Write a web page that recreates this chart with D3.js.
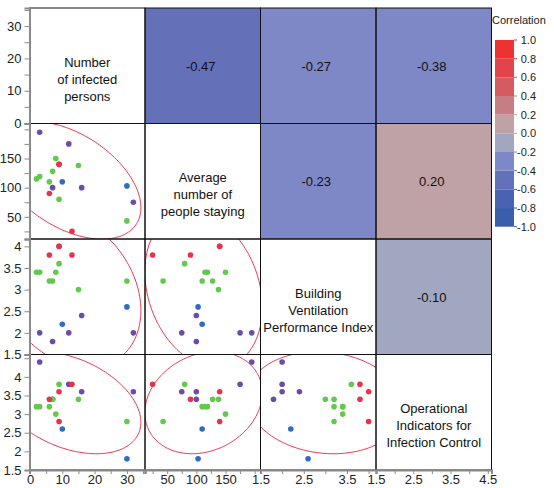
<!DOCTYPE html>
<html>
<head>
<meta charset="utf-8">
<script src="https://cdn.jsdelivr.net/npm/d3@7"></script>
<style>
  body { margin: 0; background: #fff; }
  text { font-family: "Liberation Sans", Arial, Helvetica, sans-serif; }
</style>
</head>
<body>
<svg id="chart" width="554" height="488"></svg>
<script>
// data, one entry per room
const group       = ["red","red","red","red","green","green","green","green","green","green","green","green","blue","blue","purple","purple","purple","purple","purple"];
const infected    = [9, 9, 6, 13, 8, 15, 7, 3, 2, 6, 9, 30, 10, 30, 3, 12, 7, 16, 32];
const staying     = [140, 140, 90, 25, 150, 138, 128, 119, 115, 110, 80, 43, 110, 103, 195, 175, 100, 100, 75];
const ventilation = [4.0, 4.0, 3.8, 3.8, 3.4, 3.0, 3.2, 3.4, 3.4, 3.2, 3.6, 3.2, 2.2, 2.6, 2.0, 2.0, 1.8, 2.4, 2.0];
const operational = [3.6, 2.8, 3.4, 3.8, 3.0, 3.4, 3.4, 3.2, 3.2, 3.2, 3.8, 2.8, 2.6, 1.8, 4.4, 3.8, 3.4, 3.6, 3.6];

const varLabels = [
  ["Number", "of infected", "persons"],
  ["Average", "number of", "people staying"],
  ["Building", "Ventilation", "Performance Index"],
  ["Operational", "Indicators for", "Infection Control"]
];
// [row, col, r] for the upper panels
const corrValues = [[0, 1, -0.47], [0, 2, -0.27], [0, 3, -0.38], [1, 2, -0.23], [1, 3, 0.20], [2, 3, -0.10]];

const tickValues = [
  [0, 5, 10, 15, 20, 25, 30, 35],
  [25, 50, 75, 100, 125, 150, 175, 200],
  [1.5, 2, 2.5, 3, 3.5, 4],
  [1.5, 2, 2.5, 3, 3.5, 4, 4.5]
];
const yTickLabels = [[0, 10, 20, 30], [50, 100, 150], [1.5, 2, 2.5, 3, 3.5, 4], [1.5, 2, 2.5, 3, 3.5, 4]];
const xTickLabels = [[0, 10, 20, 30], [50, 100, 150], [1.5, 2.5, 3.5], [1.5, 2.5, 3.5, 4.5]];
const legendTicks = [1.0, 0.8, 0.6, 0.4, 0.2, 0.0, -0.2, -0.4, -0.6, -0.8, -1.0];
// bins from -1 up to +1
const binColors = ["#3a5dac", "#4a62b0", "#6470b8", "#7e88c6", "#a1a7c0", "#bfa2a6", "#c67e84", "#d65a62", "#e3434a", "#ee3131"];
const pointColors = { red: "#e8344a", green: "#62c84e", blue: "#2f6bc7", purple: "#6b4ca6" };

const columns = [infected, staying, ventilation, operational];
const domains = [[-0.15, 35.6], [12, 210], [1.5, 4.17], [1.5, 4.6]];

const x0 = 29.5, y0 = 8, s = 115.5, n = 4;
const svg = d3.select("#chart");

const xs = domains.map((d, j) => d3.scaleLinear().domain(d).range([x0 + j * s, x0 + (j + 1) * s]));
const ys = domains.map((d, i) => d3.scaleLinear().domain(d).range([y0 + (i + 1) * s, y0 + i * s]));

const binOf = r => binColors[Math.max(0, Math.min(9, Math.floor((r + 1) / 0.2 - 1e-9)))];

// clip paths per panel
const defs = svg.append("defs");
for (let i = 0; i < n; i++) for (let j = 0; j < n; j++) {
  defs.append("clipPath").attr("id", `clip${i}${j}`)
    .append("rect").attr("x", x0 + j * s).attr("y", y0 + i * s).attr("width", s).attr("height", s);
}

// upper panels: colour + value
svg.selectAll("rect.corr").data(corrValues).enter().append("rect")
  .attr("x", d => x0 + d[1] * s).attr("y", d => y0 + d[0] * s)
  .attr("width", s).attr("height", s)
  .attr("fill", d => binOf(d[2]));
svg.selectAll("text.corr").data(corrValues).enter().append("text")
  .attr("x", d => x0 + d[1] * s + s / 2 - 2).attr("y", d => y0 + d[0] * s + s / 2 + 5)
  .attr("text-anchor", "middle").attr("font-size", 13).attr("fill", "#111")
  .text(d => d[2].toFixed(2));

// diagonal labels
for (let i = 0; i < n; i++) {
  svg.append("g").selectAll("text").data(varLabels[i]).enter().append("text")
    .attr("x", x0 + i * s + s / 2)
    .attr("y", (d, k) => y0 + i * s + s / 2 + 1 + k * 17)
    .attr("text-anchor", "middle").attr("font-size", 13).attr("fill", "#111")
    .text(d => d);
}

// 95% data ellipse for a pair of columns
function ellipsePoints(xv, yv) {
  const mx = d3.mean(xv), my = d3.mean(yv);
  const m = xv.length;
  let sxx = 0, syy = 0, sxy = 0;
  for (let k = 0; k < m; k++) {
    sxx += (xv[k] - mx) ** 2; syy += (yv[k] - my) ** 2; sxy += (xv[k] - mx) * (yv[k] - my);
  }
  sxx /= m - 1; syy /= m - 1; sxy /= m - 1;
  const tr = sxx + syy, det = sxx * syy - sxy * sxy;
  const l1 = tr / 2 + Math.sqrt(tr * tr / 4 - det), l2 = tr / 2 - Math.sqrt(tr * tr / 4 - det);
  const ang = Math.atan2(l1 - sxx, sxy);
  const c = 5.991;
  const a = Math.sqrt(c * l1), b = Math.sqrt(c * l2);
  const pts = [];
  for (let t = 0; t <= 200; t++) {
    const th = t / 200 * 2 * Math.PI;
    const u = a * Math.cos(th), v = b * Math.sin(th);
    pts.push([mx + u * Math.cos(ang) - v * Math.sin(ang), my + u * Math.sin(ang) + v * Math.cos(ang)]);
  }
  return pts;
}

const drawOrder = d3.range(infected.length).sort((p, q) =>
  ["purple", "blue", "green", "red"].indexOf(group[p]) - ["purple", "blue", "green", "red"].indexOf(group[q]));

// lower panels: ellipse + points
for (let i = 1; i < n; i++) for (let j = 0; j < i; j++) {
  const g = svg.append("g").attr("clip-path", `url(#clip${i}${j})`);
  const line = d3.line().x(d => xs[j](d[0])).y(d => ys[i](d[1]));
  g.append("path").attr("d", line(ellipsePoints(columns[j], columns[i])))
    .attr("fill", "none").attr("stroke", "#e8364e").attr("stroke-width", 1);
  g.selectAll("circle").data(drawOrder).enter().append("circle")
    .attr("cx", k => xs[j](columns[j][k])).attr("cy", k => ys[i](columns[i][k]))
    .attr("r", 2.8).attr("fill", k => pointColors[group[k]]);
}

// panel frames
for (let i = 0; i < n; i++) for (let j = 0; j < n; j++) {
  svg.append("rect").attr("x", x0 + j * s).attr("y", y0 + i * s).attr("width", s).attr("height", s)
    .attr("fill", "none").attr("stroke", "#111").attr("stroke-width", 1);
}

// outer axes
function styleAxis(g) {
  g.select(".domain").attr("stroke", "#8a8a8a").attr("stroke-width", 2);
  g.selectAll(".tick line").attr("stroke", "#8a8a8a").attr("stroke-width", 1);
  g.selectAll(".tick text").attr("font-size", 13).attr("fill", "#222")
    .attr("font-family", "'Liberation Sans', Arial, Helvetica, sans-serif");
}
for (let i = 0; i < n; i++) {
  svg.append("g").attr("transform", `translate(${x0},0)`)
    .call(d3.axisLeft(ys[i]).tickValues(tickValues[i]).tickSizeOuter(0).tickSize(5).tickPadding(3)
      .tickFormat(d => yTickLabels[i].includes(d) ? String(d) : ""))
    .call(styleAxis);
}
for (let j = 0; j < n; j++) {
  svg.append("g").attr("transform", `translate(0,${y0 + n * s})`)
    .call(d3.axisBottom(xs[j]).tickValues(tickValues[j]).tickSizeOuter(0).tickSize(4).tickPadding(1)
      .tickFormat(d => xTickLabels[j].includes(d) ? String(d) : ""))
    .call(styleAxis);
}

// colour legend
const ly = d3.scaleLinear().domain([1, -1]).range([40, 226.7]);
const legend = svg.append("g");
legend.append("text").attr("x", 492).attr("y", 24).attr("font-size", 11).attr("fill", "#222").text("Correlation");
legend.selectAll("rect").data(d3.range(10)).enter().append("rect")
  .attr("x", 495).attr("width", 19)
  .attr("y", k => ly(-1 + (k + 1) * 0.2)).attr("height", k => ly(-1 + k * 0.2) - ly(-1 + (k + 1) * 0.2))
  .attr("fill", k => binColors[k]);
legend.selectAll("line").data(legendTicks).enter().append("line")
  .attr("x1", 514).attr("x2", 517).attr("y1", d => ly(d)).attr("y2", d => ly(d))
  .attr("stroke", d => binOf(Math.max(-0.99, Math.min(0.99, d)))).attr("stroke-width", 1);
legend.selectAll("text.lt").data(legendTicks).enter().append("text")
  .attr("x", 536).attr("y", d => ly(d) + 4).attr("text-anchor", "end")
  .attr("font-size", 11).attr("fill", "#222")
  .text(d => d.toFixed(1));
</script>
</body>
</html>
